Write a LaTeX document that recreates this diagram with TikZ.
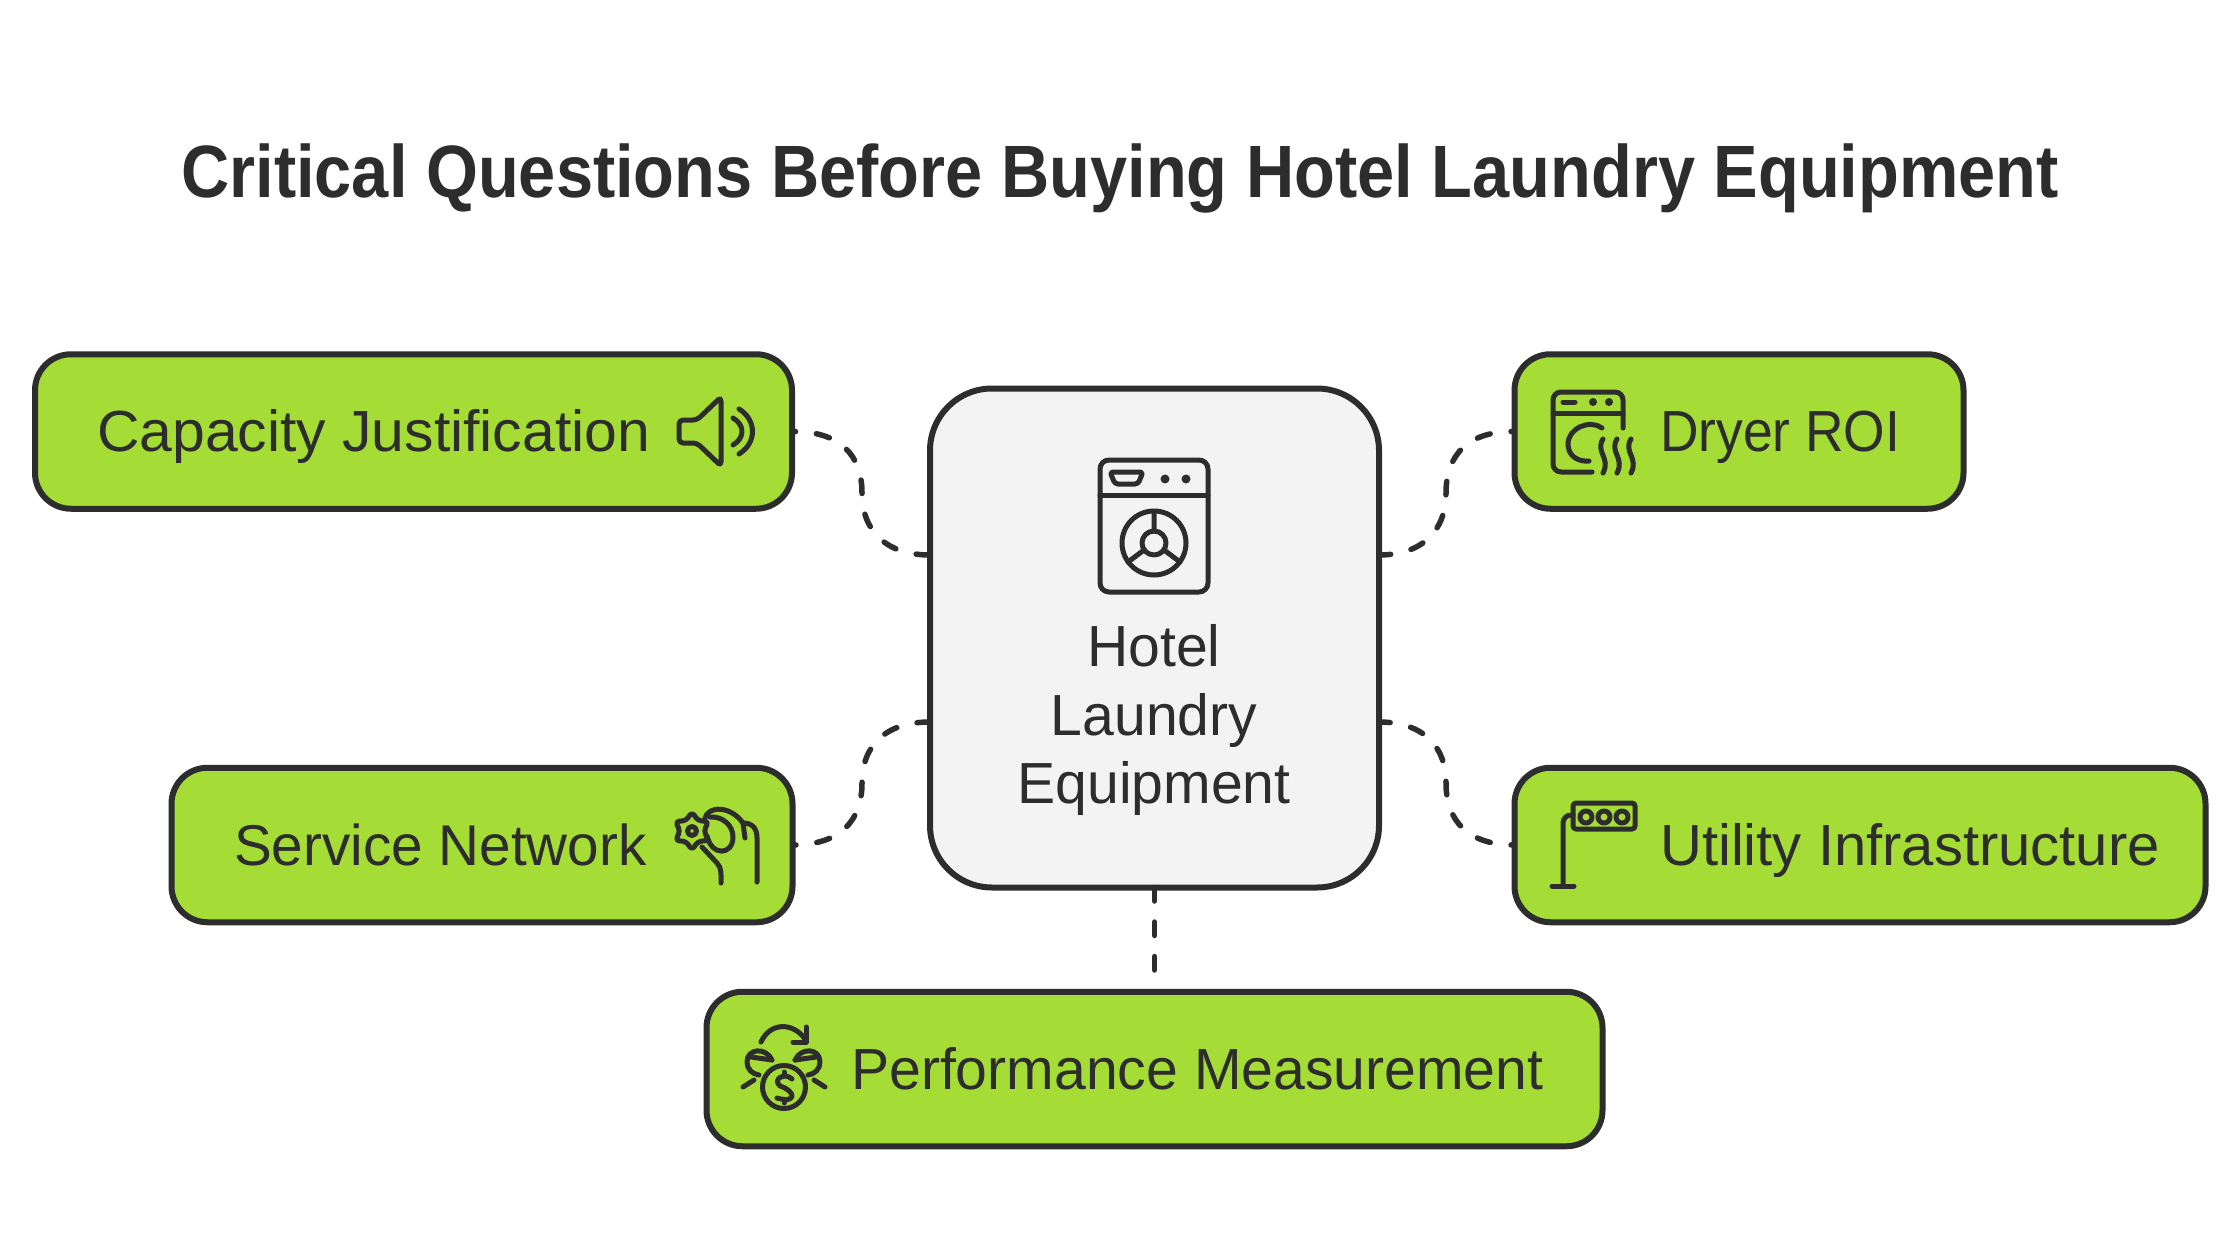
\documentclass[tikz,border=0pt]{standalone}
\usepackage{xcolor}
\usepackage{fontspec}
\setmainfont{Liberation Sans}
\newfontfamily\narrowfont[FakeStretch=0.92]{Liberation Sans}
\newfontfamily\slimfont[FakeStretch=0.985]{Liberation Sans}
\newfontfamily\widefont[FakeStretch=1.015]{Liberation Sans}
\newfontfamily\titlefont[FakeStretch=0.9]{Liberation Sans}
\usetikzlibrary{positioning,calc}
\definecolor{qgreen}{HTML}{A5DC36}
\definecolor{qink}{HTML}{2D2D2D}
\definecolor{qhub}{HTML}{F3F3F3}
\tikzset{
    topic/.style={rectangle, rounded corners=36pt, draw=qink, fill=qgreen,
        line width=6pt, minimum height=154.5pt, inner sep=0pt, outer sep=0pt},
    hubbox/.style={rectangle, rounded corners=62pt, draw=qink, fill=qhub,
        line width=6pt, minimum width=449pt, minimum height=499pt, inner sep=0pt, outer sep=0pt},
    topiclabel/.style={font=\fontsize{58}{68}\selectfont, text=qink, inner sep=0pt, anchor=base west},
    hublabel/.style={font=\slimfont\fontsize{58}{68.5}\selectfont, text=qink, inner sep=0pt, align=center},
    titlelabel/.style={font=\titlefont\fontsize{74.2}{80}\selectfont\bfseries, text=qink, inner sep=0pt, anchor=base},
    link/.style={draw=qink, line width=5.5pt, line cap=round, dash pattern=on 13.5pt off 21pt, dash phase=10pt},
    glyph/.style={draw=qink, line width=5pt, line cap=round, line join=round},
}
\begin{document}
\begin{tikzpicture}[x=1pt, y=-1pt]
    \useasboundingbox (0,0) rectangle (2240,1260);

    % title
    \node[titlelabel] (title) at (1120,198) {Critical Questions Before Buying Hotel Laundry Equipment};

    % centre box
    \node[hubbox] (hub) at (1154.5,638) {};
    \node[hublabel] (hubtext) at (1154,720) {Hotel\\Laundry\\Equipment};

    % boxes round it
    \node[topic, minimum width=757pt] (capacity) at (413.5,431.5) {};
    \node[topic, minimum width=449pt] (dryer) at (1739,431.5) {};
    \node[topic, minimum width=621pt] (service) at (482,845) {};
    \node[topic, minimum width=691pt] (utility) at (1860,845) {};
    \node[topic, minimum width=896pt] (performance) at (1154.5,1069) {};

    % box texts
    \node[topiclabel, font=\widefont\fontsize{58}{68}\selectfont] (capacitytext) at (97,451) {Capacity Justification};
    \node[topiclabel, font=\narrowfont\fontsize{58}{68}\selectfont] (dryertext) at (1660,451) {Dryer ROI};
    \node[topiclabel, font=\slimfont\fontsize{57.5}{68}\selectfont] (servicetext) at (234,865) {Service Network};
    \node[topiclabel] (utilitytext) at (1660,865) {Utility Infrastructure};
    \node[topiclabel, font=\slimfont\fontsize{58}{68}\selectfont] (performancetext) at (851,1089) {Performance Measurement};

    % connectors
    \coordinate (hubnw) at ($(hub.west)+(0,-83)$);
    \coordinate (hubsw) at ($(hub.west)+(0,84)$);
    \coordinate (hubne) at ($(hub.east)+(0,-83)$);
    \coordinate (hubse) at ($(hub.east)+(0,84)$);
    \coordinate (perftop) at ($(performance.north)+(0,-20)$);
    \draw[link] (capacity.east) .. controls (840,431) and (862,455) .. (862,493) .. controls (862,530) and (885,555) .. (hubnw);
    \draw[link] (dryer.west) .. controls (1468,431) and (1446,455) .. (1446,493) .. controls (1446,530) and (1423,555) .. (hubne);
    \draw[link] (service.east) .. controls (840,845) and (862,821) .. (862,783) .. controls (862,746) and (885,722) .. (hubsw);
    \draw[link] (utility.west) .. controls (1468,845) and (1446,821) .. (1446,783) .. controls (1446,746) and (1423,722) .. (hubse);
    \draw[link, dash phase=0pt] (hub.south) -- (perftop);

    % washer
    \draw[glyph, rounded corners=9pt] (1100,460) rectangle (1208,592);
    \draw[glyph] (1100,495) -- (1208,495);
    \draw[glyph, rounded corners=3pt] (1110,472) -- (1143,472) -- (1138,484) -- (1115,484) -- cycle;
    \fill[qink] (1165,479) circle (4.5pt) (1186,479) circle (4.5pt);
    \draw[glyph] (1154,543) circle (32pt) (1154,543) circle (12pt);
    \draw[glyph] (1154,513) -- (1154,531) (1144,550) -- (1128,562) (1164,550) -- (1180,562);

    % speaker
    \draw[glyph, rounded corners=4pt] (697,420) -- (679,420) -- (679,443) -- (697,443) -- (721,466) -- (721,397) -- cycle;
    \draw[glyph] (733,418) .. controls (745,425) and (745,438) .. (733,445);
    \draw[glyph] (739,409) .. controls (757,420) and (757,443) .. (739,454);

    % dryer
    \draw[glyph, rounded corners=8pt] (1623,428) -- (1623,392) -- (1553,392) -- (1553,472) -- (1592,472);
    \draw[glyph] (1553,413) -- (1623,413);
    \draw[glyph] (1563,402) -- (1575,402);
    \fill[qink] (1593,402) circle (4pt) (1609,402) circle (4pt);
    \draw[glyph] (1602,428) .. controls (1590,419) and (1568,428) .. (1568,444) .. controls (1568,456) and (1578,462) .. (1589,461);
    \draw[glyph] (1603,439) .. controls (1595,452) and (1611,458) .. (1603,473);
    \draw[glyph] (1617,439) .. controls (1609,452) and (1625,458) .. (1617,473);
    \draw[glyph] (1631,439) .. controls (1623,452) and (1639,458) .. (1631,473);

    % hand with cog
    \draw[glyph] (692,831) circle (4.5pt);
    \begin{scope}[shift={(692,831)}]
        \draw[glyph, rounded corners=3.5pt] (90:19) -- (60:12) -- (30:19) -- (0:12) -- (-30:19) -- (-60:12) -- (-90:19) -- (-120:12) -- (-150:19) -- (180:12) -- (150:19) -- (120:12) -- cycle;
    \end{scope}
    \draw[glyph] (705,818) .. controls (708,806) and (730,805) .. (743,823) .. controls (752,823) and (757,828) .. (757,838) -- (757,882);
    \draw[glyph] (743,823) -- (745,838);
    \draw[glyph] (710,817) .. controls (722,816) and (733,825) .. (733,837) .. controls (733,855) and (712,857) .. (707,836);
    \draw[glyph] (702,847) -- (717,863) .. controls (722,868) and (721,875) .. (721,883);

    % signal post
    \draw[glyph, rounded corners=3pt] (1573,803) rectangle (1635,829);
    \draw[glyph] (1586,817) circle (6pt) (1604,817) circle (6pt) (1622,817) circle (6pt);
    \draw[glyph, rounded corners=8pt] (1573,815) -- (1563,815) -- (1563,886);
    \draw[glyph] (1552,886) -- (1574,886);

    % coins
    \draw[glyph] (761,1042) .. controls (770,1022) and (793,1022) .. (805,1039);
    \draw[glyph] (806,1027) -- (806,1042) -- (793,1042);
    \draw[glyph] (772,1060) .. controls (766,1047) and (747,1048) .. (747,1062) .. controls (747,1069) and (752,1074) .. (759,1075);
    \draw[glyph] (751,1057) -- (772,1060);
    \draw[glyph] (795,1060) .. controls (801,1047) and (820,1048) .. (820,1062) .. controls (820,1069) and (815,1074) .. (808,1075);
    \draw[glyph] (816,1057) -- (795,1060);
    \draw[glyph] (784,1087) circle (21.5pt);
    \draw[glyph] (792,1079) .. controls (785,1072) and (772,1079) .. (780,1086) .. controls (796,1091) and (797,1104) .. (777,1098);
    \draw[glyph] (784,1072) -- (784,1075) (784,1100) -- (784,1103);
    \draw[glyph] (743,1087) -- (754,1080);
    \draw[glyph] (825,1087) -- (814,1080);
\end{tikzpicture}
\end{document}
